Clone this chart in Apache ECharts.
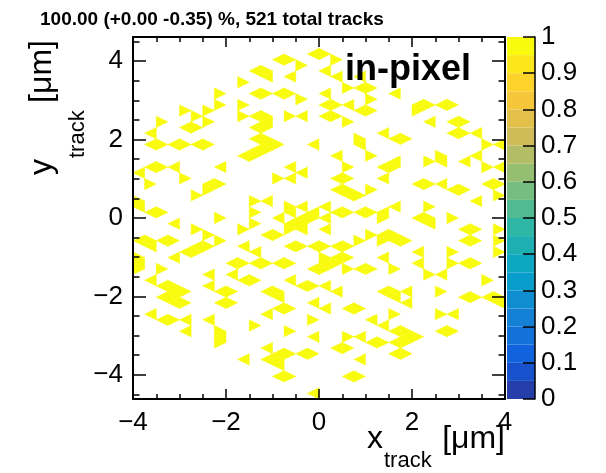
<!DOCTYPE html>
<html><head><meta charset="utf-8">
<script src="https://cdn.jsdelivr.net/npm/echarts@6/dist/echarts.min.js"></script>
<style>html,body{margin:0;padding:0;background:#fff}#c{width:606px;height:473px}</style>
</head><body><div id="c"></div>
<script>
// ---- data ----
const titleText = '100.00 (+0.00 -0.35) %, 521 total tracks';
const xTickValues = [-4, -2, 0, 2, 4];
const yTickValues = [-4, -2, 0, 2, 4];
const yMinorValues = [-4.5, -3.5, -3, -2.5, -1.5, -1, -0.5, 0.5, 1, 1.5, 2.5, 3, 3.5, 4.5];
const zTickValues = [0, 0.1, 0.2, 0.3, 0.4, 0.5, 0.6, 0.7, 0.8, 0.9, 1];
const hexHalfHeight = 8 / Math.sqrt(3);      // hexagon vertex at (0, ±4.619)
const stripWidth = 0.25;                      // width of one triangle column
const cellSide = 0.5 / Math.sqrt(3);          // vertical side of a triangle
// filled triangles: per column (strip 0..31, from x=-4), half-step rows m (centre y = m*cellSide/2)
const stripRows = [
  /* 0 */ [8, 3, 2, -4, -7, -8, -9],
  /* 1 */ [15, 13, 9, 6, 1, -4, -5, -11, -17],
  /* 2 */ [17, 13, 9, 1, -4, -9, -12, -14, -18],
  /* 3 */ [13, 9, -1, -4, -7, -12, -13, -14, -15, -18],
  /* 4 */ [19, 16, 13, 7, -6, -13, -15, -18, -20],
  /* 5 */ [18, 16, 13, 4, -2, -5, -6],
  /* 6 */ [19, 17, 13, 6, 5, -3, -5, -10, -12, -18],
  /* 7 */ [22, 20, 9, 6, 0, -4, -13, -15, -20, -21, -22],
  /* 8 */ [-8, -10, -13, -15],
  /* 9 */ [24, 20, 18, 11, -2, -5, -8, -11, -25],
  /* 10 */ [26, 22, 18, 16, 14, 12, 11, 3, 1, -1, -6, -8, -11, -19],
  /* 11 */ [26, 25, 22, 18, 17, 16, 14, 13, 12, 3, -3, -8, -13, -17, -23, -25],
  /* 12 */ [28, 22, 13, 7, 0, -3, -8, -13, -14, -16, -24, -25, -26, -28],
  /* 13 */ [28, 25, 22, 18, 9, 7, 2, 1, -1, -2, -5, -8, -11, -16, -20, -24, -28],
  /* 14 */ [27, 21, 18, 8, 2, 0, -1, -2, -5, -12, -24],
  /* 15 */ [29, 13, 1, 0, -5, -9, -12, -15, -18, -21, -24, -31],
  /* 16 */ [29, 26, 22, 20, 18, 2, 0, -2, -5, -7, -8, -9, -12, -16],
  /* 17 */ [28, 25, 20, 18, 11, 7, 5, 1, -5, -7, -8, -13, -23],
  /* 18 */ [23, 20, 17, 9, 7, 5, 4, 1, -5, -7, -9, -16, -21, -23, -28],
  /* 19 */ [25, 23, 19, 14, 13, 4, 1, -4, -9, -16, -21, -25, -28],
  /* 20 */ [23, 21, 19, 11, 5, 1, -3, -9, -18, -22],
  /* 21 */ [15, 9, 7, 1, 0, -3, -4, -7, -13, -19, -22],
  /* 22 */ [22, 14, 10, 9, 2, -3, -4, -9, -13, -14, -17, -20, -22, -24],
  /* 23 */ [14, -4, -13, -15, -20, -21, -22, -24],
  /* 24 */ [20, 19, 6, 0, -6, -8, -21],
  /* 25 */ [20, 17, 10, 6, 2, 0, -1, -10],
  /* 26 */ [20, 11, 10, 6, -10, -13, -17, -20],
  /* 27 */ [20, 17, 15, 5, 0, -6, -8, -17, -20],
  /* 28 */ [17, 15, 10, 5, -2, -4, -8, -14],
  /* 29 */ [15, 11, 3, -2, -4, -8, -14],
  /* 30 */ [13, 9, 6, -11, -14],
  /* 31 */ [13, 9, 6, 4, -2, -4, -6, -14, -15]
];
const cellEfficiency = 1.0;
// ROOT kBird palette
const birdStops = [0.0, 0.125, 0.25, 0.375, 0.5, 0.625, 0.75, 0.875, 1.0];
const birdRed   = [0.2082, 0.0592, 0.0780, 0.0232, 0.1802, 0.5301, 0.8186, 0.9956, 0.9764];
const birdGreen = [0.1664, 0.3599, 0.5041, 0.6419, 0.7178, 0.7492, 0.7328, 0.7862, 0.9832];
const birdBlue  = [0.5293, 0.8684, 0.8385, 0.7914, 0.6425, 0.4662, 0.3499, 0.1968, 0.0539];
const nContours = 20;

// ---- helpers ----
function birdAt(t) {
  let k = 0;
  while (k < birdStops.length - 2 && t > birdStops[k + 1]) k++;
  const f = (t - birdStops[k]) / (birdStops[k + 1] - birdStops[k]);
  const c = a => Math.round(255 * (a[k] + (a[k + 1] - a[k]) * f));
  return 'rgb(' + c(birdRed) + ',' + c(birdGreen) + ',' + c(birdBlue) + ')';
}
const bandColors = [];
for (let k = 0; k < nContours; k++) bandColors.push(birdAt(Math.min(1, (k + 0.99) / nContours)));
function colorOf(v) { return bandColors[Math.min(nContours - 1, Math.floor(v * nContours))]; }

const cellData = [];
stripRows.forEach((rows, i) => rows.forEach(m => cellData.push([i, m, cellEfficiency])));
const bandData = [];
for (let k = 0; k < nContours; k++) bandData.push([k / nContours, (k + 1) / nContours, k]);

const minus = v => String(v).replace('-', '\u2212');
const FONT = 'Liberation Sans';
const black = '#000';

function cellItem(params, api) {
  const i = api.value(0), m = api.value(1), v = api.value(2);
  const x0 = -4 + i * stripWidth, x1 = x0 + stripWidth;
  const yc = m * cellSide / 2, h = cellSide / 2;
  const pointsRight = (((m + i) % 2) + 2) % 2 === 1;
  const pts = pointsRight ? [[x0, yc - h], [x0, yc + h], [x1, yc]] : [[x1, yc - h], [x1, yc + h], [x0, yc]];
  const col = colorOf(v);
  return { type: 'polygon', shape: { points: pts.map(p => api.coord(p)) },
           style: { fill: col, stroke: col, lineWidth: 0.5 } };
}
function bandItem(params, api) {
  const a = api.coord([0, api.value(0)]), b = api.coord([1, api.value(1)]);
  return { type: 'rect', shape: { x: a[0], y: b[1], width: b[0] - a[0], height: a[1] - b[1] },
           style: { fill: bandColors[api.value(2)] } };
}

const lab = { fontFamily: FONT, fontSize: 26, color: black };
const lineS = { color: black, width: 2 };
const tickS = { color: black, width: 1.5 };
const AZ = 10;
const plotRect = { left: 133, right: 101, top: 37, bottom: 74 };

const chart = echarts.init(document.getElementById('c'), null, { renderer: 'canvas' });
chart.setOption({
  animation: false,
  backgroundColor: '#fff',
  title: { text: titleText, left: 35, top: 5,
           textStyle: { fontFamily: FONT, fontSize: 19, fontWeight: 'bold', color: black } },
  grid: [
    Object.assign({}, plotRect),
    { left: 507, right: 71, top: 37, bottom: 74 },
    Object.assign({}, plotRect)
  ],
  xAxis: [
    { gridIndex: 0, type: 'value', min: -4, max: 4, interval: 2, position: 'bottom', z: AZ,
      axisLine: { show: true, onZero: false, lineStyle: lineS },
      axisTick: { show: true, inside: true, length: 10, lineStyle: tickS },
      minorTick: { show: true, splitNumber: 4, length: 5, lineStyle: tickS },
      axisLabel: Object.assign({ margin: 11, formatter: minus }, lab),
      splitLine: { show: false }, minorSplitLine: { show: false } },
    { gridIndex: 0, type: 'value', min: -4, max: 4, interval: 2, position: 'top', z: AZ,
      axisLine: { show: true, onZero: false, lineStyle: lineS },
      axisTick: { show: true, inside: true, length: 10, lineStyle: tickS },
      minorTick: { show: true, splitNumber: 4, length: 5, lineStyle: tickS },
      axisLabel: { show: false }, splitLine: { show: false } },
    { gridIndex: 1, type: 'value', min: 0, max: 1, show: false },
    { gridIndex: 2, type: 'value', min: -4, max: 4, show: false }
  ],
  yAxis: [
    { gridIndex: 0, type: 'value', min: -hexHalfHeight, max: hexHalfHeight, position: 'left', z: AZ,
      axisLine: { show: true, onZero: false, lineStyle: lineS },
      axisTick: { show: true, inside: true, length: 13, lineStyle: tickS, customValues: yTickValues },
      axisLabel: Object.assign({ margin: 10, formatter: minus, customValues: yTickValues }, lab),
      splitLine: { show: false } },
    { gridIndex: 0, type: 'value', min: -hexHalfHeight, max: hexHalfHeight, position: 'right', z: AZ,
      axisLine: { show: true, onZero: false, lineStyle: lineS },
      axisTick: { show: true, inside: true, length: 13, lineStyle: tickS, customValues: yTickValues },
      axisLabel: { show: false, customValues: yTickValues }, splitLine: { show: false } },
    { gridIndex: 1, type: 'value', min: 0, max: 1, interval: 0.1, position: 'right', z: AZ,
      axisLine: { show: true, onZero: false, lineStyle: { color: black, width: 1.5 } },
      axisTick: { show: true, inside: true, length: 12, lineStyle: tickS },
      axisLabel: Object.assign({ margin: 6,
        formatter: v => (Math.abs(v) < 1e-9 ? '0' : Math.abs(v - 1) < 1e-9 ? '1' : v.toFixed(1)) }, lab),
      splitLine: { show: false } },
    { gridIndex: 2, type: 'value', min: -hexHalfHeight, max: hexHalfHeight, position: 'left', z: AZ,
      axisLine: { show: false, onZero: false },
      axisTick: { show: true, inside: true, length: 6.5, lineStyle: tickS, customValues: yMinorValues },
      axisLabel: { show: false, customValues: yMinorValues }, splitLine: { show: false } },
    { gridIndex: 2, type: 'value', min: -hexHalfHeight, max: hexHalfHeight, position: 'right', z: AZ,
      axisLine: { show: false, onZero: false },
      axisTick: { show: true, inside: true, length: 6.5, lineStyle: tickS, customValues: yMinorValues },
      axisLabel: { show: false, customValues: yMinorValues }, splitLine: { show: false } }
  ],
  graphic: [
    { type: 'text', left: 345, top: 52, z: 100,
      style: { text: 'in-pixel', font: 'bold 36px "Liberation Sans"', fill: black } },
    // x axis title
    { type: 'text', x: 383, y: 439, style: { text: 'x', font: '32px "Liberation Sans"', fill: black, align: 'right', verticalAlign: 'middle' } },
    { type: 'text', x: 384, y: 461, style: { text: 'track', font: '22px "Liberation Sans"', fill: black, align: 'left', verticalAlign: 'middle' } },
    { type: 'text', x: 505, y: 439, style: { text: '[\u03bcm]', font: '32px "Liberation Sans"', fill: black, align: 'right', verticalAlign: 'middle' } },
    // y axis title (rotated)
    { type: 'text', x: 42, y: 175, rotation: Math.PI / 2,
      style: { text: 'y', font: '32px "Liberation Sans"', fill: black, align: 'left', verticalAlign: 'middle' } },
    { type: 'text', x: 78, y: 158, rotation: Math.PI / 2,
      style: { text: 'track', font: '22px "Liberation Sans"', fill: black, align: 'left', verticalAlign: 'middle' } },
    { type: 'text', x: 42, y: 40, rotation: Math.PI / 2,
      style: { text: '[\u03bcm]', font: '32px "Liberation Sans"', fill: black, align: 'right', verticalAlign: 'middle' } }
  ],
  series: [
    { type: 'custom', name: 'cells', coordinateSystem: 'cartesian2d', xAxisIndex: 0, yAxisIndex: 0,
      clip: true, renderItem: cellItem, data: cellData, silent: true, z: 2 },
    { type: 'custom', name: 'palette', coordinateSystem: 'cartesian2d', xAxisIndex: 2, yAxisIndex: 2,
      renderItem: bandItem, data: bandData, silent: true, z: 2 }
  ]
});
</script></body></html>
